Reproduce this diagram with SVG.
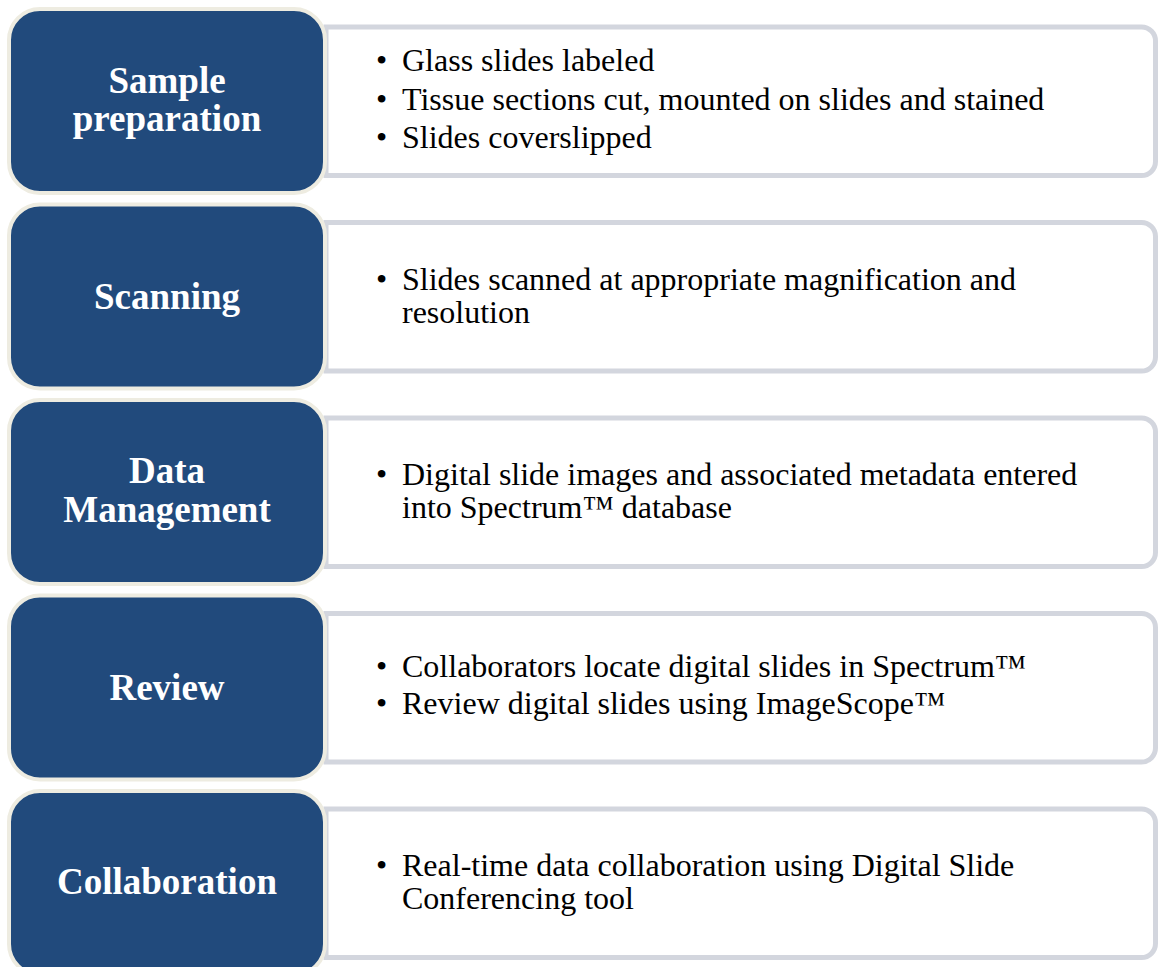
<svg xmlns="http://www.w3.org/2000/svg" width="1159" height="967" viewBox="0 0 1159 967">
<style>
.detail{fill:#ffffff;stroke:#D3D6DE;stroke-width:5}
.step{fill:#214A7C;stroke:#EEECE1;stroke-width:4}
.lbl{font-family:"Liberation Serif","Times New Roman",serif;font-weight:bold;font-size:37px;fill:#ffffff;text-anchor:middle}
.txt{font-family:"Liberation Serif","Times New Roman",serif;font-size:32px;fill:#000000}
</style>
<defs>
<path id="dbox" d="M326,27 H1141.5 A14,14 0 0 1 1155.5,41 V161.5 A14,14 0 0 1 1141.5,175.5 H326 Z"/>
</defs>
<rect width="1159" height="967" fill="#ffffff"/>
<g id="connectors"></g>

<g id="node-sample-preparation">
<use href="#dbox" class="detail"/>
<rect class="step" x="9" y="9" width="316" height="184" rx="31"/>
<text class="lbl" x="167" y="93">Sample</text>
<text class="lbl" x="167" y="131">preparation</text>
<text class="txt" x="376" y="71">•</text><text class="txt" x="402" y="71">Glass slides labeled</text>
<text class="txt" x="376" y="110">•</text><text class="txt" x="402" y="110">Tissue sections cut, mounted on slides and stained</text>
<text class="txt" x="376" y="148">•</text><text class="txt" x="402" y="148">Slides coverslipped</text>
</g>

<g id="node-scanning" transform="translate(0,195.5)">
<use href="#dbox" class="detail"/>
<rect class="step" x="9" y="9" width="316" height="184" rx="31"/>
<text class="lbl" x="167" y="113.5">Scanning</text>
<text class="txt" x="376" y="94.5">•</text><text class="txt" x="402" y="94.5">Slides scanned at appropriate magnification and</text>
<text class="txt" x="402" y="127.5">resolution</text>
</g>

<g id="node-data-management" transform="translate(0,391)">
<use href="#dbox" class="detail"/>
<rect class="step" x="9" y="9" width="316" height="184" rx="31"/>
<text class="lbl" x="167" y="92">Data</text>
<text class="lbl" x="167" y="131">Management</text>
<text class="txt" x="376" y="94">•</text><text class="txt" x="402" y="94">Digital slide images and associated metadata entered</text>
<text class="txt" x="402" y="127">into Spectrum™ database</text>
</g>

<g id="node-review" transform="translate(0,586.5)">
<use href="#dbox" class="detail"/>
<rect class="step" x="9" y="9" width="316" height="184" rx="31"/>
<text class="lbl" x="167" y="113">Review</text>
<text class="txt" x="376" y="90.5">•</text><text class="txt" x="402" y="90.5">Collaborators locate digital slides in Spectrum™</text>
<text class="txt" x="376" y="127.5">•</text><text class="txt" x="402" y="127.5">Review digital slides using ImageScope™</text>
</g>

<g id="node-collaboration" transform="translate(0,782)">
<use href="#dbox" class="detail"/>
<rect class="step" x="9" y="9" width="316" height="184" rx="31"/>
<text class="lbl" x="167" y="112">Collaboration</text>
<text class="txt" x="376" y="94">•</text><text class="txt" x="402" y="94">Real-time data collaboration using Digital Slide</text>
<text class="txt" x="402" y="127">Conferencing tool</text>
</g>
</svg>
